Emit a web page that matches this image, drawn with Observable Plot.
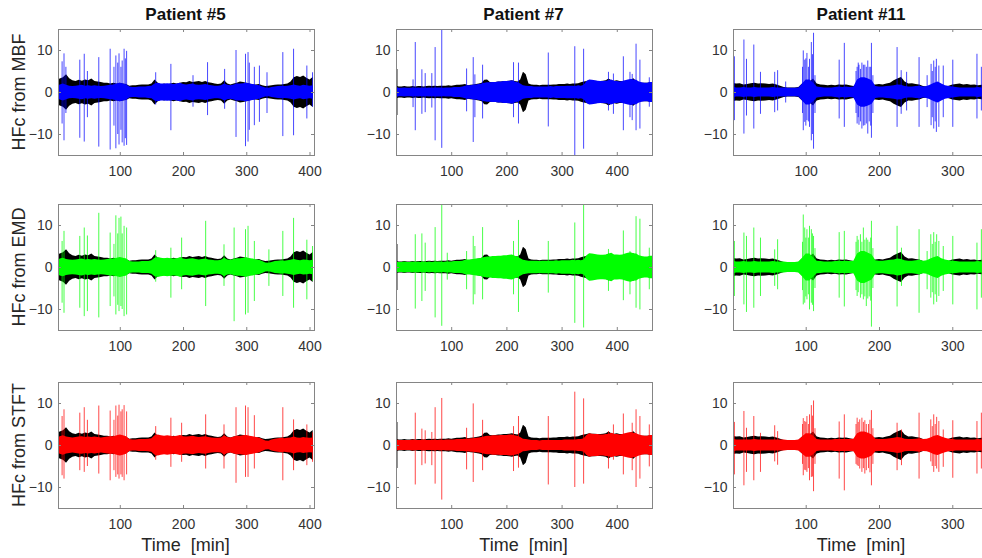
<!DOCTYPE html>
<html>
<head>
<meta charset="utf-8">
<script src="https://cdn.jsdelivr.net/npm/d3@7"></script>
<script src="https://cdn.jsdelivr.net/npm/@observablehq/plot@0.6"></script>
<style>
  html, body { margin: 0; padding: 0; background: #fff; }
  #fig { position: relative; width: 982px; height: 558px; overflow: hidden; background: #fff; font-family: "Liberation Sans", Arial, sans-serif; }
  .panel { position: absolute; width: 313px; height: 164px; }
  .panel svg { max-width: none !important; width: 313px; height: 164px; display: block; }
  .title { position: absolute; width: 300px; text-align: center; font-size: 17px; font-weight: bold; line-height: 17px; color: #111; }
  .ylab { position: absolute; width: 200px; text-align: center; font-size: 18px; line-height: 18px; color: #262626; transform: rotate(-90deg); transform-origin: 50% 50%; white-space: pre; }
  .xlab { position: absolute; width: 300px; text-align: center; font-size: 18px; line-height: 18px; color: #262626; white-space: pre; }
</style>
</head>
<body>
<div id="fig"></div>
<script>
// ---------------- DATA ----------------
const patients = ["Patient #5", "Patient #7", "Patient #11"];
const methods = ["MBF", "EMD", "STFT"];
const methodColors = ["#0000ff", "#00ff00", "#ff0000"];
const yTicks = [-10, 0, 10];
const p5Ticks = [100, 200, 300, 400];
const p7Ticks = [100, 200, 300, 400];
const p11Ticks = [100, 200, 300];

// Patient #5 : envelope amplitudes sampled along time [min]
const p5Time = [2,5,10,15,20,25,30,35,40,45,50,55,60,65,70,75,80,85,90,95,100,105,110,115,120,125,130,135,140,145,150,155,160,165,170,175,180,185,190,195,200,205,210,215,220,225,230,235,240,245,250,255,260,265,270,275,280,285,290,295,300,305,310,315,320,325,330,335,340,345,350,355,360,365,370,375,380,385,390,395,400,405];
const p5Black = [3.0,3.2,3.5,4.2,3.3,2.8,2.6,2.9,2.7,3.0, 2.8,3.2,2.6,2.5,2.4,2.2,2.2,2.0,2.2,2.0, 2.2,2.0,1.9,1.5,1.6,1.6,1.7,1.8,1.8,1.8, 2.0,3.0,2.2,1.8,2.0,1.8,2.0,2.2,2.0,2.2, 2.4,2.3,2.6,2.4,2.5,2.6,2.4,2.6,2.3,2.2, 2.0,1.9,2.0,2.8,2.0,1.8,2.0,2.2,2.5,2.4, 2.2,2.0,1.8,1.8,1.9,1.6,1.4,1.5,1.6,1.7, 1.8,1.8,1.9,2.0,2.5,3.5,3.8,3.6,3.9,3.4, 3.0,3.6];
const p5MBF = [1.5,1.8,2.0,1.7,1.5,1.4,1.5,1.6,1.7,1.5, 1.6,1.5,1.6,1.5,1.4,1.5,1.6,1.7,1.8,2.0, 2.2,2.0,1.8,1.3,1.2,1.2,1.3,1.3,1.3,1.4, 1.5,2.0,2.2,2.0,2.0,2.1,2.0,1.9,2.0,2.2, 1.9,1.8,1.9,2.0,1.8,1.7,1.8,1.9,1.7,1.6, 1.5,1.5,1.6,2.0,1.7,1.6,1.8,2.0,2.0,2.1, 2.2,2.0,1.9,1.7,1.6,1.3,1.1,1.0,1.2,1.3, 1.4,1.5,1.4,1.5,1.6,1.8,1.6,1.5,1.7,1.6, 1.5,1.6];
const p5EMD = [1.7,2.0,2.2,1.9,1.8,1.7,1.8,1.9,2.0,1.8, 1.9,1.8,1.9,1.8,1.7,1.8,1.9,2.0,2.0,2.2, 2.4,2.2,2.0,1.4,1.3,1.3,1.3,1.4,1.4,1.4, 1.6,2.2,2.4,2.2,2.1,2.2,2.1,2.0,2.1,2.3, 2.0,1.9,2.0,2.1,1.9,1.8,1.9,2.0,1.8,1.7, 1.6,1.6,1.7,2.2,1.8,1.7,1.9,2.1,2.1,2.2, 2.3,2.1,2.0,1.8,1.7,1.4,1.1,1.0,1.2,1.4, 1.5,1.6,1.5,1.6,1.7,1.9,1.7,1.6,1.8,1.7, 1.6,1.7];
const p5STFT = [1.8,2.1,2.3,2.0,1.9,1.8,1.9,2.0,2.1,1.9, 2.0,1.9,2.0,1.9,1.8,1.9,2.0,2.1,2.1,2.3, 2.5,2.3,2.1,1.4,1.3,1.3,1.4,1.4,1.4,1.5, 1.6,2.3,2.5,2.3,2.2,2.3,2.2,2.1,2.2,2.4, 2.1,2.0,2.1,2.2,2.0,1.9,2.0,2.1,1.9,1.8, 1.7,1.7,1.8,2.3,1.9,1.8,2.0,2.2,2.2,2.3, 2.4,2.2,2.1,1.9,1.8,1.4,1.1,1.0,1.3,1.5, 1.6,1.7,1.6,1.7,1.8,2.0,1.8,1.7,1.9,1.8, 1.7,1.8];
// spikes: [time, max, min]
const p5BlackSpikes = [];
const p5MBFSpikes = [[8,7.3,-7.5],[11,9.2,-11.5],[14,6,-5],[36,7.7,-10.9],[43,9.1,-11.8],[48,5,-6],[66,8.3,-13],[84,10.3,-13.7],[90,6,-8],[93,8.7,-13.4],[96,7,-10],[98,9.2,-12.5],[101,6,-9],[103,7.5,-12],[106,10.3,-12.8],[108,8,-11],[110,9.8,-12.6],[156,4.7,-3],[180,6.7,-9.1],[215,4,-3.5],[238,7.1,-5.5],[265,5.5,-4],[283,10,-10.7],[298,9.1,-12.9],[302,9.5,-11.8],[304,7,-9],[312,6,-7.9],[320,6.3,-7.1],[332,4.7,-5],[357,9.5,-10.5],[374,10.3,-10.3],[395,6.3,-6.3],[404,4.7,-3.5]];
const p5EMDSpikes = [[8,6.2,-8.5],[11,8.6,-10.9],[36,7.4,-9.7],[43,9.4,-11.7],[48,7.5,-10.5],[66,12.9,-12],[84,8.2,-9.3],[90,5.5,-7],[93,12.3,-11.3],[96,8,-9],[98,11.7,-10.5],[101,12,-9.3],[103,8,-10],[106,9.8,-11.7],[110,9.4,-11.3],[156,4,-3.5],[180,4.6,-7.3],[197,7,-5.3],[235,11,-9.3],[264,5.4,-4.5],[280,9.4,-12.9],[298,9,-11.3],[302,9.8,-10.9],[312,6.2,-8.1],[335,4.2,-4.5],[357,8.6,-6.9],[374,11.7,-9.7],[395,6.5,-7.7],[404,5,-3.3]];
const p5STFTSpikes = [[8,6.9,-7.2],[11,8.5,-8],[36,7.7,-6],[43,9,-6.4],[48,6,-5],[66,9.4,-6.8],[84,8.2,-8.4],[90,6,-6],[93,9.4,-7.6],[96,7,-7],[98,9.6,-8],[101,8,-7],[103,8.5,-7.6],[106,9.5,-8.4],[110,8,-7],[156,4.5,-3.5],[180,6.5,-5.2],[197,5.3,-4],[235,7.3,-5.6],[264,4.9,-5.6],[283,9,-9],[298,9.4,-7.6],[302,9,-7.6],[312,7.1,-5.6],[357,9,-8.4],[374,6.1,-6],[395,4.9,-4.8],[404,3,-4]];

// Patient #7
const p7Time = [0,5,10,15,20,25,30,35,40,45,50,55,60,65,70,75,80,85,90,95,100,105,110,115,120,125,130,135,140,145,150,155,160,165,170,175,180,185,190,195,200,205,210,215,220,225,230,235,240,245,250,255,260,265,270,275,280,285,290,295,300,305,310,315,320,325,330,335,340,345,350,355,360,365,370,375,380,385,390,395,400,405,410,415,420,425,430,435,440,445,450,455,460,464];
const p7Black = [1.5,1.3,1.3,1.4,1.3,1.3,1.4,1.3,1.4,1.4, 1.3,1.4,1.5,1.4,1.5,1.4,1.5,1.5,1.5,1.6, 1.5,1.6,1.7,1.7,1.8,1.9,1.6,1.7,1.8,1.9, 2.0,2.2,2.9,3.0,2.4,2.3,2.4,2.5,2.5,2.6, 2.6,2.7,2.8,2.6,2.5,3.0,4.8,4.2,2.0,1.8, 1.7,1.7,1.6,1.7,1.7,1.7,1.7,1.8,1.8,1.9, 1.9,1.9,2.0,1.9,2.0,2.0,2.1,2.3,2.5,2.6, 2.8,2.7,2.7,2.6,2.6,2.7,2.8,3.2,2.8,2.7, 2.8,2.6,2.6,2.7,2.8,2.9,3.3,2.6,2.4,2.2, 2.2,2.2,2.3,2.3];
const p7MBF = [1.2,1.0,1.0,1.1,1.0,1.0,1.1,1.0,1.1,1.0, 1.1,1.0,1.1,1.0,1.1,1.1,1.1,1.0,1.1,1.1, 1.1,1.2,1.2,1.2,1.3,1.5,1.6,1.6,1.7,1.8, 1.9,2.0,2.2,2.3,2.3,2.4,2.4,2.5,2.5,2.6, 2.6,2.7,2.8,2.5,2.3,2.0,1.6,1.5,1.4,1.4, 1.3,1.3,1.3,1.3,1.3,1.3,1.4,1.3,1.4,1.4, 1.4,1.4,1.5,1.5,1.5,1.4,1.6,1.5,1.7,2.6, 3.0,2.9,2.8,2.7,2.6,2.6,2.7,2.8,3.0,2.6, 2.6,2.5,2.6,2.8,3.0,3.1,3.0,2.9,2.5,2.3, 2.2,2.2,2.4,2.4];
const p7EMD = [1.3,1.2,1.2,1.3,1.2,1.2,1.3,1.2,1.3,1.2, 1.3,1.2,1.3,1.2,1.3,1.3,1.3,1.2,1.3,1.3, 1.3,1.4,1.4,1.4,1.5,1.7,1.8,1.8,1.9,2.0, 2.1,2.2,2.4,2.5,2.5,2.6,2.6,2.7,2.7,2.8, 2.8,2.9,3.0,2.7,2.5,2.1,1.7,1.6,1.5,1.5, 1.5,1.5,1.4,1.5,1.5,1.5,1.5,1.5,1.6,1.5, 1.6,1.6,1.6,1.6,1.7,1.6,1.7,1.6,1.8,2.8, 3.3,3.2,3.1,3.0,2.9,2.9,3.0,3.2,3.4,3.0, 3.0,2.9,3.0,3.2,3.4,3.5,3.3,3.2,2.8,2.6, 2.5,2.5,2.7,2.7];
const p7STFT = [1.3,1.2,1.2,1.2,1.2,1.2,1.3,1.2,1.2,1.2, 1.3,1.2,1.2,1.2,1.3,1.2,1.3,1.2,1.3,1.3, 1.3,1.3,1.4,1.4,1.4,1.5,1.5,1.6,1.6,1.7, 1.8,1.9,2.1,2.2,2.2,2.3,2.3,2.3,2.4,2.4, 2.4,2.5,2.5,2.3,2.2,1.9,1.5,1.4,1.3,1.2, 1.2,1.2,1.1,1.2,1.2,1.2,1.2,1.2,1.2,1.2, 1.2,1.3,1.3,1.3,1.3,1.3,1.4,1.4,1.6,2.4, 2.8,2.7,2.6,2.6,2.5,2.5,2.6,2.7,2.9,2.6, 2.6,2.5,2.6,2.8,3.0,3.1,2.9,2.8,2.5,2.3, 2.2,2.2,2.4,2.4];
const p7BlackSpikes = [[0.6,5.5,-5.5]];
const p7MBFSpikes = [[30,3,-3.6],[34,11.9,-9.1],[46,5.4,-5.2],[52,4.5,-4.8],[64,4.5,-3.7],[70,10.7,-11.5],[82,15.5,-13.3],[127,5.6,-4.6],[139,8.3,-11.9],[142,4.2,-6],[156,6.5,-6.3],[212,7.1,-6],[221,7,-7.5],[275,9.4,-8.2],[323,10.9,-15.5],[339,10.3,-13.5],[384,4.8,-4.4],[393,4.4,-5.2],[411,8.5,-9.1],[423,4.8,-6],[427,4.3,-6.7],[434,11.5,-9.1],[441,7.7,-8.7],[458,3.5,-3.5]];
const p7EMDSpikes = [[34,7.8,-9.9],[46,8,-8.1],[52,5.8,-5.7],[70,9.5,-12],[82,15.5,-14],[92,3.4,-3],[127,3.8,-5.3],[139,7.4,-8.9],[142,5,-6.5],[156,9.5,-7.7],[212,6.2,-6.5],[221,11.2,-10.7],[275,6.2,-6.1],[323,10.6,-13.3],[339,15.5,-14.4],[384,4.3,-5.7],[411,8.7,-7.9],[423,3.8,-6.5],[434,12.1,-9.7],[441,11.5,-10.1],[458,4.6,-5.3]];
const p7STFTSpikes = [[34,7.7,-9.4],[46,3.9,-4.8],[52,3.5,-4.4],[64,3.1,-4.8],[70,9,-9.2],[82,11.2,-13],[127,4.1,-5.8],[139,9.9,-8.8],[156,6,-6],[212,4.5,-6.2],[221,6.9,-5.4],[275,6.9,-9.4],[323,12.7,-10],[339,11.1,-9.2],[384,3.3,-5.6],[393,4.9,-3.5],[411,7.5,-7],[427,5.3,-6],[434,8.5,-10],[441,6.9,-8],[458,4.9,-5.1]];

// Patient #11
const p11Time = [0,5,10,15,20,25,30,35,40,45,50,55,60,65,70,75,80,85,90,95,100,105,110,115,120,125,130,135,140,145,150,155,160,165,170,175,180,185,190,195,200,205,210,215,220,225,230,235,240,245,250,255,260,265,270,275,280,285,290,295,300,305,310,315,320,325,330,335,340,345,350];
const p11Black = [2.2,2.0,2.1,1.8,1.9,2.1,2.2,2.0,2.1,2.0, 1.9,2.0,1.8,1.5,1.2,1.1,1.1,1.1,1.2,2.0, 2.5,2.5,3.2,2.0,1.8,1.7,1.6,1.7,1.6,1.8, 1.7,1.8,1.6,1.4,1.6,1.7,1.8,1.6,1.7,1.8, 1.9,1.8,2.0,2.2,2.8,3.2,3.6,2.5,2.0,2.1, 1.9,1.8,1.4,1.3,1.3,1.2,1.3,1.4,1.3,1.5, 1.8,1.9,2.0,1.8,1.9,1.7,1.8,1.6,1.7,1.8, 1.8];
const p11MBF = [1.3,1.1,1.1,1.2,1.1,1.1,1.2,1.1,1.1,1.1, 1.1,1.2,1.1,1.1,1.1,1.0,1.0,1.0,1.1,2.0, 3.0,3.0,2.2,1.3,1.2,1.1,1.1,1.1,1.2,1.3, 1.2,1.3,1.2,1.3,3.0,3.5,3.5,3.2,2.8,1.4, 1.3,1.3,1.4,1.5,1.6,1.8,1.7,1.4,1.3,1.3, 1.4,1.5,1.3,1.4,1.8,2.2,2.5,2.0,1.6,1.4, 1.3,1.2,1.1,1.1,1.1,1.1,1.1,1.2,1.1,1.1, 1.1];
const p11EMD = [1.5,1.3,1.3,1.4,1.3,1.3,1.4,1.3,1.3,1.3, 1.3,1.4,1.3,1.3,1.3,1.2,1.2,1.2,1.3,2.2, 3.2,3.2,2.3,1.5,1.4,1.3,1.3,1.3,1.4,1.5, 1.4,1.5,1.4,1.5,3.2,3.8,3.8,3.4,3.0,1.6, 1.5,1.5,1.6,1.7,1.8,2.0,1.9,1.6,1.5,1.5, 1.6,1.7,1.5,1.6,2.0,2.4,2.6,2.1,1.8,1.6, 1.5,1.4,1.3,1.3,1.3,1.3,1.3,1.4,1.3,1.3, 1.3];
const p11STFT = [1.5,1.3,1.3,1.3,1.3,1.3,1.4,1.3,1.3,1.3, 1.3,1.3,1.3,1.3,1.3,1.2,1.2,1.2,1.3,2.0, 2.8,2.8,2.2,1.4,1.3,1.3,1.3,1.3,1.4,1.4, 1.4,1.4,1.4,1.5,2.8,3.2,3.2,2.9,2.5,1.5, 1.4,1.4,1.5,1.6,1.7,1.9,1.8,1.5,1.4,1.4, 1.5,1.6,1.4,1.5,1.8,2.2,2.4,2.0,1.7,1.5, 1.4,1.3,1.3,1.3,1.3,1.3,1.3,1.4,1.3,1.3, 1.3];
const p11BlackSpikes = [];
const p11MBFSpikes = [[2,8.5,-6.7],[15,12.5,-9.9],[18.5,7.9,-5.6],[28.5,11.3,-8.7],[37.6,4.8,-5.2],[57,4.8,-4.8],[61,5.2,-4.4],[72,2.5,-2.5],[95,6,-5],[96,9.9,-9.1],[98,7.7,-7.1],[99.5,8,-8],[101,9.3,-6.7],[103,6,-7],[104.5,7.9,-8.3],[107,11.9,-11.5],[108.5,9,-10],[110,14.1,-13.5],[112,4,-5],[145,7.7,-6.3],[152,11.7,-8.3],[168,5,-5],[169.5,6,-7.5],[171,7,-6],[172,6.5,-7.8],[174,5.5,-7],[176,7,-8.7],[178,6.5,-8],[180,6.5,-7.9],[182,6,-7.5],[184,7.5,-9.9],[186,6,-7],[188,6,-8],[189,11.7,-10.9],[191,4,-5],[224,10.7,-8.3],[229.6,5.2,-5.2],[237,4.8,-4.4],[254,8.3,-8.3],[265,4,-3.6],[270.4,6.7,-7.9],[272,5,-6],[274,7.5,-8.7],[276,6,-7],[277.6,7.9,-9.5],[281,6.3,-8.3],[287,6.3,-6],[300,7.7,-8.3],[333,9.1,-6.3],[339,6,-4.4]];
const p11EMDSpikes = [[2,6.2,-6.9],[15,8.2,-8.9],[18.5,7.4,-10.7],[28.5,9.4,-9.7],[37.6,7,-6.9],[57,4.2,-4.5],[61,6.6,-5.3],[95,6,-5.5],[96,12.5,-8.9],[98,9.4,-8.5],[99.5,7,-7],[101,9,-7.7],[103,7,-6.5],[104.5,9.8,-10.1],[107,9,-8.5],[108.5,8,-9],[110,7.4,-10.5],[112,4.5,-5],[145,8.3,-7.3],[152,8.6,-9.4],[168,6,-5.5],[169.5,7.4,-6.9],[171,6.5,-6],[174,7.8,-7.3],[176,6,-6.5],[178,9.4,-7.7],[180,6.5,-7],[182,7,-9.3],[184,6.5,-7.5],[186,6,-7],[188,7,-8],[189,11,-14.2],[191,4.5,-5],[224,9.8,-9.4],[230,4.6,-4.5],[254,9,-10.9],[265,3.8,-5.3],[270,7.8,-7.3],[272,5.5,-6],[274,8.3,-8.9],[276,6,-6.5],[278,7.8,-8.3],[281,6.2,-6.9],[287,5,-5.7],[300,7.4,-8.9],[333,5.8,-10.1],[339,9,-7.3]];
const p11STFTSpikes = [[2,5.5,-7],[15,8.1,-9.6],[18.5,4.1,-6.4],[28.5,6.9,-8.4],[37.6,2.9,-6.4],[57,4.7,-3.9],[61,3.3,-4.7],[95,5,-4.5],[96,6.4,-7.2],[98,5.7,-5.9],[99.5,5.5,-6],[101,6.9,-6.4],[103,5,-5.5],[104.5,7.3,-8.4],[107,9.5,-7.6],[108.5,7,-7.5],[110,10.6,-11],[112,4,-4.5],[145,5.6,-8],[152,7.3,-10.8],[168,5,-4.5],[169.5,6.5,-4.8],[171,5.5,-5],[173,6.1,-5.6],[176,6.5,-6.4],[178,5.5,-5.5],[180,5.9,-6.8],[182,5,-6],[185,5,-5.5],[187,6,-6.5],[189,8.3,-9.6],[191,4,-4.5],[224,5.3,-6],[230,3.7,-4.8],[254,7.7,-8],[270,6.1,-3.9],[272,4.5,-5],[274,7.3,-6.4],[276,5,-5],[278,6.7,-5.6],[281,5.7,-6.4],[287,3.7,-5.2],[300,5.9,-7.8],[333,5.7,-6.8],[339,7.7,-5.6]];

// ---------------- LAYOUT ----------------
const columns = [
  {name: patients[0], left: 57.5, domain: [2.3, 407.1], ticks: p5Ticks, time: p5Time, black: p5Black, blackSpikes: p5BlackSpikes,
   bands: [p5MBF, p5EMD, p5STFT], spikes: [p5MBFSpikes, p5EMDSpikes, p5STFTSpikes]},
  {name: patients[1], left: 395.5, domain: [0, 463.8], ticks: p7Ticks, time: p7Time, black: p7Black, blackSpikes: p7BlackSpikes,
   bands: [p7MBF, p7EMD, p7STFT], spikes: [p7MBFSpikes, p7EMDSpikes, p7STFTSpikes]},
  {name: patients[2], left: 733, domain: [0.8, 350.1], ticks: p11Ticks, time: p11Time, black: p11Black, blackSpikes: p11BlackSpikes,
   bands: [p11MBF, p11EMD, p11STFT], spikes: [p11MBFSpikes, p11EMDSpikes, p11STFTSpikes]}
];
const rowTops = [28.7, 204.4, 381.5];
const FW = 256, FH = 126;
const ML = 45, MR = 12, MT = 8, MB = 30;
const FRAME = "#858585";
const FONT = "Liberation Sans, Arial, sans-serif";

const fig = document.getElementById("fig");

function panel(col, r) {
  const band = col.time.map((t, i) => ({t, black: col.black[i], a: col.bands[r][i]}));
  const spikes = col.spikes[r].map(([t, hi, lo]) => ({t, hi, lo}));
  const bspikes = col.blackSpikes.map(([t, hi, lo]) => ({t, hi, lo}));
  const color = methodColors[r];
  return Plot.plot({
    width: FW + ML + MR,
    height: FH + MT + MB,
    marginLeft: ML, marginRight: MR, marginTop: MT, marginBottom: MB,
    x: {domain: col.domain},
    y: {domain: [-15, 15]},
    style: {fontFamily: FONT, background: "transparent", overflow: "visible"},
    marks: [
      Plot.area(band, {x1: "t", y1: d => -d.black, y2: "black", fill: "#000", clip: true}),
      Plot.ruleX(bspikes, {x: "t", y1: "lo", y2: "hi", stroke: "#000", strokeWidth: 1.2, clip: true}),
      Plot.area(band, {x1: "t", y1: d => -d.a, y2: "a", fill: color, clip: true}),
      Plot.ruleX(spikes, {x: "t", y1: "lo", y2: "hi", stroke: color, strokeWidth: 1, strokeOpacity: 0.72, clip: true}),
      Plot.frame({stroke: FRAME, strokeWidth: 1}),
      Plot.gridX(col.ticks, {stroke: FRAME, strokeOpacity: 1, insetTop: FH - 3}),
      Plot.gridX(col.ticks, {stroke: FRAME, strokeOpacity: 1, insetBottom: FH - 3}),
      Plot.gridY(yTicks, {stroke: FRAME, strokeOpacity: 1, insetRight: FW - 3}),
      Plot.gridY(yTicks, {stroke: FRAME, strokeOpacity: 1, insetLeft: FW - 3}),
      Plot.axisX(col.ticks, {tickSize: 0, tickPadding: 11, fontSize: 14, color: "#333", label: null}),
      Plot.axisY(yTicks, {tickSize: 0, tickPadding: 6, fontSize: 14, color: "#333", label: null})
    ]
  });
}

columns.forEach((col, c) => {
  const t = document.createElement("div");
  t.className = "title";
  t.textContent = col.name;
  t.style.left = (col.left + FW / 2 - 150) + "px";
  t.style.top = "5.6px";
  fig.appendChild(t);
  methods.forEach((m, r) => {
    const div = document.createElement("div");
    div.className = "panel";
    div.style.left = (col.left - ML) + "px";
    div.style.top = (rowTops[r] - MT) + "px";
    div.appendChild(panel(col, r));
    fig.appendChild(div);
  });
  const xl = document.createElement("div");
  xl.className = "xlab";
  xl.textContent = "Time  [min]";
  xl.style.left = (col.left + FW / 2 - 150) + "px";
  xl.style.top = "535.8px";
  fig.appendChild(xl);
});

methods.forEach((m, r) => {
  const yl = document.createElement("div");
  yl.className = "ylab";
  yl.textContent = "HFc from " + m;
  const cy = rowTops[r] + FH / 2;
  yl.style.left = (19 - 100) + "px";
  yl.style.top = (cy - 9) + "px";
  fig.appendChild(yl);
});
</script>
</body>
</html>
